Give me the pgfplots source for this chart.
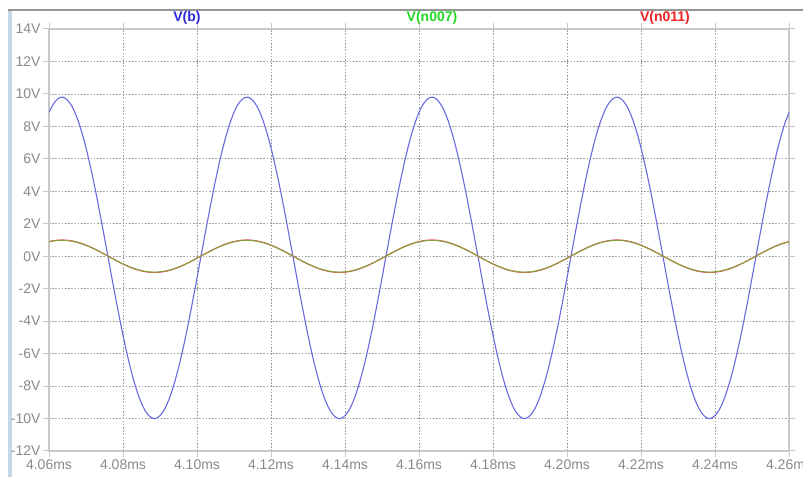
\documentclass[border=0pt]{standalone}
\usepackage{pgfplots}
\pgfplotsset{compat=1.18}
\usepackage{pgfplotstable}
\usepackage{fontspec}
\setmainfont{Liberation Sans}
\definecolor{tickgray}{HTML}{8A8A8A}
\definecolor{framegray}{HTML}{C8C8C8}
\definecolor{gridgray}{HTML}{A0A0A0}
\definecolor{bline}{HTML}{6A6AE0}
\definecolor{blab}{HTML}{2A2AD8}
\definecolor{glab}{HTML}{22D822}
\definecolor{rlab}{HTML}{EE2222}
\definecolor{gline}{HTML}{8E9E3A}
\definecolor{rline}{HTML}{E85060}
\pgfplotstableread{
t b r g
4.06000 8.86 0.905 0.887
4.06125 9.41 0.960 0.941
4.06250 9.72 0.992 0.972
4.06375 9.80 1.000 0.980
4.06500 9.62 0.982 0.963
4.06625 9.22 0.941 0.922
4.06750 8.58 0.876 0.859
4.06875 7.72 0.790 0.774
4.07000 6.68 0.685 0.671
4.07125 5.46 0.562 0.551
4.07250 4.12 0.426 0.417
4.07375 2.66 0.279 0.273
4.07500 1.14 0.125 0.123
4.07625 -0.41 -0.031 -0.031
4.07750 -1.96 -0.187 -0.184
4.07875 -3.45 -0.339 -0.332
4.08000 -4.87 -0.482 -0.472
4.08125 -6.17 -0.613 -0.601
4.08250 -7.32 -0.729 -0.714
4.08375 -8.29 -0.827 -0.811
4.08500 -9.06 -0.905 -0.887
4.08625 -9.61 -0.960 -0.941
4.08750 -9.92 -0.992 -0.972
4.08875 -10.00 -1.000 -0.980
4.09000 -9.82 -0.982 -0.963
4.09125 -9.42 -0.941 -0.922
4.09250 -8.78 -0.876 -0.859
4.09375 -7.92 -0.790 -0.774
4.09500 -6.88 -0.685 -0.671
4.09625 -5.66 -0.562 -0.551
4.09750 -4.32 -0.426 -0.417
4.09875 -2.86 -0.279 -0.273
4.10000 -1.34 -0.125 -0.123
4.10125 0.21 0.031 0.031
4.10250 1.76 0.187 0.184
4.10375 3.25 0.339 0.332
4.10500 4.67 0.482 0.472
4.10625 5.97 0.613 0.601
4.10750 7.12 0.729 0.714
4.10875 8.09 0.827 0.811
4.11000 8.86 0.905 0.887
4.11125 9.41 0.960 0.941
4.11250 9.72 0.992 0.972
4.11375 9.80 1.000 0.980
4.11500 9.62 0.982 0.963
4.11625 9.22 0.941 0.922
4.11750 8.58 0.876 0.859
4.11875 7.72 0.790 0.774
4.12000 6.68 0.685 0.671
4.12125 5.46 0.562 0.551
4.12250 4.12 0.426 0.417
4.12375 2.66 0.279 0.273
4.12500 1.14 0.125 0.123
4.12625 -0.41 -0.031 -0.031
4.12750 -1.96 -0.187 -0.184
4.12875 -3.45 -0.339 -0.332
4.13000 -4.87 -0.482 -0.472
4.13125 -6.17 -0.613 -0.601
4.13250 -7.32 -0.729 -0.714
4.13375 -8.29 -0.827 -0.811
4.13500 -9.06 -0.905 -0.887
4.13625 -9.61 -0.960 -0.941
4.13750 -9.92 -0.992 -0.972
4.13875 -10.00 -1.000 -0.980
4.14000 -9.82 -0.982 -0.963
4.14125 -9.42 -0.941 -0.922
4.14250 -8.78 -0.876 -0.859
4.14375 -7.92 -0.790 -0.774
4.14500 -6.88 -0.685 -0.671
4.14625 -5.66 -0.562 -0.551
4.14750 -4.32 -0.426 -0.417
4.14875 -2.86 -0.279 -0.273
4.15000 -1.34 -0.125 -0.123
4.15125 0.21 0.031 0.031
4.15250 1.76 0.187 0.184
4.15375 3.25 0.339 0.332
4.15500 4.67 0.482 0.472
4.15625 5.97 0.613 0.601
4.15750 7.12 0.729 0.714
4.15875 8.09 0.827 0.811
4.16000 8.86 0.905 0.887
4.16125 9.41 0.960 0.941
4.16250 9.72 0.992 0.972
4.16375 9.80 1.000 0.980
4.16500 9.62 0.982 0.963
4.16625 9.22 0.941 0.922
4.16750 8.58 0.876 0.859
4.16875 7.72 0.790 0.774
4.17000 6.68 0.685 0.671
4.17125 5.46 0.562 0.551
4.17250 4.12 0.426 0.417
4.17375 2.66 0.279 0.273
4.17500 1.14 0.125 0.123
4.17625 -0.41 -0.031 -0.031
4.17750 -1.96 -0.187 -0.184
4.17875 -3.45 -0.339 -0.332
4.18000 -4.87 -0.482 -0.472
4.18125 -6.17 -0.613 -0.601
4.18250 -7.32 -0.729 -0.714
4.18375 -8.29 -0.827 -0.811
4.18500 -9.06 -0.905 -0.887
4.18625 -9.61 -0.960 -0.941
4.18750 -9.92 -0.992 -0.972
4.18875 -10.00 -1.000 -0.980
4.19000 -9.82 -0.982 -0.963
4.19125 -9.42 -0.941 -0.922
4.19250 -8.78 -0.876 -0.859
4.19375 -7.92 -0.790 -0.774
4.19500 -6.88 -0.685 -0.671
4.19625 -5.66 -0.562 -0.551
4.19750 -4.32 -0.426 -0.417
4.19875 -2.86 -0.279 -0.273
4.20000 -1.34 -0.125 -0.123
4.20125 0.21 0.031 0.031
4.20250 1.76 0.187 0.184
4.20375 3.25 0.339 0.332
4.20500 4.67 0.482 0.472
4.20625 5.97 0.613 0.601
4.20750 7.12 0.729 0.714
4.20875 8.09 0.827 0.811
4.21000 8.86 0.905 0.887
4.21125 9.41 0.960 0.941
4.21250 9.72 0.992 0.972
4.21375 9.80 1.000 0.980
4.21500 9.62 0.982 0.963
4.21625 9.22 0.941 0.922
4.21750 8.58 0.876 0.859
4.21875 7.72 0.790 0.774
4.22000 6.68 0.685 0.671
4.22125 5.46 0.562 0.551
4.22250 4.12 0.426 0.417
4.22375 2.66 0.279 0.273
4.22500 1.14 0.125 0.123
4.22625 -0.41 -0.031 -0.031
4.22750 -1.96 -0.187 -0.184
4.22875 -3.45 -0.339 -0.332
4.23000 -4.87 -0.482 -0.472
4.23125 -6.17 -0.613 -0.601
4.23250 -7.32 -0.729 -0.714
4.23375 -8.29 -0.827 -0.811
4.23500 -9.06 -0.905 -0.887
4.23625 -9.61 -0.960 -0.941
4.23750 -9.92 -0.992 -0.972
4.23875 -10.00 -1.000 -0.980
4.24000 -9.82 -0.982 -0.963
4.24125 -9.42 -0.941 -0.922
4.24250 -8.78 -0.876 -0.859
4.24375 -7.92 -0.790 -0.774
4.24500 -6.88 -0.685 -0.671
4.24625 -5.66 -0.562 -0.551
4.24750 -4.32 -0.426 -0.417
4.24875 -2.86 -0.279 -0.273
4.25000 -1.34 -0.125 -0.123
4.25125 0.21 0.031 0.031
4.25250 1.76 0.187 0.184
4.25375 3.25 0.339 0.332
4.25500 4.67 0.482 0.472
4.25625 5.97 0.613 0.601
4.25750 7.12 0.729 0.714
4.25875 8.09 0.827 0.811
4.26000 8.86 0.905 0.887
}\data
\begin{document}
\begin{tikzpicture}[font=\fontsize{14bp}{16bp}\selectfont]
\useasboundingbox (0,0) rectangle (803bp,477bp);
\fill[white] (0,0) rectangle (803bp,477bp);
\fill[color={rgb,255:red,196;green,214;blue,232}] (8bp,0) rectangle (12bp,467bp);
\draw[color={rgb,255:red,150;green,150;blue,150}, line width=2bp] (8bp,467bp) -- (803bp,467bp);
\begin{axis}[
  at={(49bp,26bp)}, anchor=south west,
  width=740bp, height=422bp, scale only axis,
  xmin=4.06, xmax=4.26, ymin=-12, ymax=14,
  xtick={4.06,4.08,4.10,4.12,4.14,4.16,4.18,4.20,4.22,4.24,4.26},
  xticklabels={4.06ms,4.08ms,4.10ms,4.12ms,4.14ms,4.16ms,4.18ms,4.20ms,4.22ms,4.24ms,4.26ms},
  ytick={-12,-10,-8,-6,-4,-2,0,2,4,6,8,10,12,14},
  yticklabels={-12V,-10V,-8V,-6V,-4V,-2V,0V,2V,4V,6V,8V,10V,12V,14V},
  tick label style={text=tickgray, font=\fontsize{14bp}{16bp}\selectfont},
  xticklabel style={yshift=1bp},
  yticklabel style={xshift=1bp},
  tick align=outside, major tick length=6bp,
  tick style={framegray, line width=1bp},
  axis line style={framegray, line width=1.5bp},
  grid=major,
  major grid style={gridgray, line width=0.8bp, dash pattern=on 1.6bp off 1.6bp},
  clip=true,
]
\addplot[bline, line width=1.1bp, smooth] table[x=t, y=b] {\data};
\addplot[rline, line width=1.1bp, smooth] table[x=t, y=r] {\data};
\addplot[gline, line width=1.1bp, smooth] table[x=t, y=g] {\data};
\end{axis}
\node[text=blab, font=\fontsize{14bp}{16bp}\selectfont\bfseries] at (187bp,459bp) {V(b)};
\node[text=glab, font=\fontsize{14bp}{16bp}\selectfont\bfseries] at (432bp,459bp) {V(n007)};
\node[text=rlab, font=\fontsize{14bp}{16bp}\selectfont\bfseries] at (665bp,459bp) {V(n011)};
\end{tikzpicture}
\end{document}
